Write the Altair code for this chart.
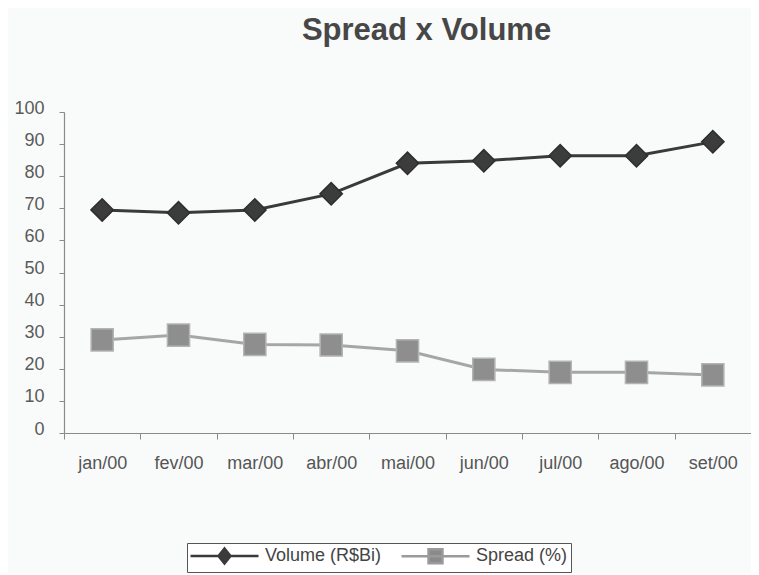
import altair as alt
import pandas as pd

months = ["jan/00", "fev/00", "mar/00", "abr/00", "mai/00", "jun/00", "jul/00", "ago/00", "set/00"]
volume = [69.5, 68.6, 69.5, 74.5, 84.0, 84.8, 86.4, 86.4, 90.7]
spread = [29.0, 30.5, 27.6, 27.4, 25.6, 19.8, 18.9, 18.9, 18.1]
series_names = ["Volume (R$Bi)", "Spread (%)"]
y_ticks = list(range(0, 101, 10))

rows = []
for i, m in enumerate(months):
    rows.append({"month": m, "idx": i, "series": series_names[0], "value": volume[i]})
    rows.append({"month": m, "idx": i, "series": series_names[1], "value": spread[i]})
df = pd.DataFrame(rows)

FONT = "Liberation Sans"
line_colors = ["#3a3a3a", "#a6a6a6"]
fill_colors = ["#3c3c3c", "#8e8e8e"]
stroke_colors = ["#2e2e2e", "#b4b4b4"]

x_enc = alt.X("month:N", sort=months, title=None,
              axis=alt.Axis(ticks=False, domain=True, domainColor="#8a8a8a", domainWidth=1.2,
                            labelAngle=0, labelFont=FONT, labelFontSize=18, labelColor="#555555",
                            labelPadding=21, grid=False, labelOverlap=False))
y_axis = alt.Axis(values=y_ticks, grid=False, tickSize=5, tickColor="#8a8a8a",
                  domainColor="#8a8a8a", domainWidth=1.2, labelFont=FONT, labelFontSize=18,
                  labelColor="#5a5a5a", labelPadding=15, labelOffset=-4, labelOverlap=False,
                  tickCount=11)
y_enc = alt.Y("value:Q", title=None, scale=alt.Scale(domain=[0, 100], nice=False, zero=True),
              axis=y_axis)
x_plain = alt.X("month:N", sort=months, title=None, axis=None)

base = alt.Chart(df)

lines = base.mark_line(strokeWidth=3).encode(
    x=x_enc, y=y_enc,
    color=alt.Color("series:N", scale=alt.Scale(domain=series_names, range=line_colors), legend=None),
    detail="series:N",
)

points = base.mark_point(filled=True, strokeWidth=1.5, opacity=1).encode(
    x=x_plain, y=y_enc,
    shape=alt.Shape("series:N", scale=alt.Scale(domain=series_names, range=["diamond", "square"]), legend=None),
    fill=alt.Fill("series:N", scale=alt.Scale(domain=series_names, range=fill_colors), legend=None),
    stroke=alt.Stroke("series:N", scale=alt.Scale(domain=series_names, range=stroke_colors), legend=None),
    size=alt.Size("series:N", scale=alt.Scale(domain=series_names, range=[500, 490]), legend=None),
)

ticks_layer = base.mark_point(opacity=0).encode(
    x=alt.X("idx:Q", title=None, scale=alt.Scale(domain=[0, len(months)], nice=False, zero=False),
            axis=alt.Axis(values=list(range(len(months) + 1)), labels=False, domain=False,
                          ticks=True, tickSize=6, tickColor="#8a8a8a", grid=False, orient="bottom")),
    y=y_enc,
)

# legend symbols: a line segment with the marker in its middle (units of sqrt(size)/2 = 8px)
vol_path = "M-4.25,0L4.25,0M0,-0.94L0.75,0L0,0.94L-0.75,0Z"
spr_path = "M-4.25,0L4.25,0M-0.87,-0.87L0.87,-0.87L0.87,0.87L-0.87,0.87Z"
leg = alt.Legend(title=None, orient="none", legendX=123, legendY=431, direction="horizontal",
                 strokeColor="#555555", padding=3, labelFont=FONT, labelFontSize=18,
                 labelColor="#444444", symbolSize=256, symbolStrokeWidth=2.5,
                 symbolOffset=25, columnPadding=14, labelOffset=31, fillColor="#ffffff")

legend_layer = base.mark_point(filled=True, opacity=1).encode(
    x=x_plain, y=y_enc,
    shape=alt.Shape("series:N", scale=alt.Scale(domain=series_names, range=[vol_path, spr_path]), legend=leg),
    fill=alt.Fill("series:N", scale=alt.Scale(domain=series_names, range=["#3c3c3c", "#8a8a8a"]), legend=leg),
    stroke=alt.Stroke("series:N", scale=alt.Scale(domain=series_names, range=["#3a3a3a", "#9a9a9a"]), legend=leg),
).transform_filter("false")

chart = alt.layer(lines, points, ticks_layer, legend_layer).resolve_scale(
    x="independent", shape="independent", fill="independent", stroke="independent",
    size="independent",
).properties(
    width=687, height=321,
    title=alt.TitleParams("Spread x Volume", font=FONT, fontSize=31, fontWeight="bold",
                          color="#474747", anchor="middle", frame="group", dx=19,
                          baseline="bottom", offset=21),
    autosize=alt.AutoSizeParams(type="none"),
    padding={"left": 56, "top": 104, "right": 0, "bottom": 140},
    background="#f9fbfb",
).configure_view(stroke=None)

chart.save("out.html", embed_options={"renderer": "svg", "actions": False})
